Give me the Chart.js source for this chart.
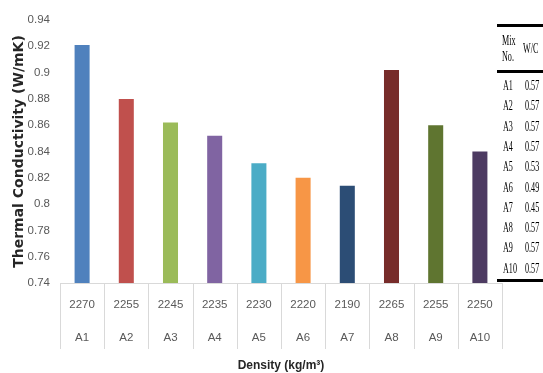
<!DOCTYPE html>
<html>
<head>
<meta charset="utf-8">
<script src="https://cdn.jsdelivr.net/npm/chart.js@4/dist/chart.umd.min.js"></script>
<style>
  html, body { margin: 0; padding: 0; background: #fff; }
  #wrap { position: relative; width: 543px; height: 373px; }
  #wrap canvas { position: absolute; left: 0; top: 0; }
  #mix { position: absolute; left: 497px; top: 0; width: 46px; height: 373px;
         font-family: "Liberation Serif", "Times New Roman", serif; color: #000; }
  #mix .rule { position: absolute; left: 0; width: 46px; background: #000; }
  #mix span { position: absolute; font-size: 14px; line-height: 16px; white-space: nowrap;
              transform: scaleX(0.58); transform-origin: left center; }
</style>
</head>
<body>
<div id="wrap">
  <canvas id="c" width="543" height="373"></canvas>
  <div id="mix"></div>
</div>
<script>
// Mix designs, their densities and measured thermal conductivity
const mixes = ['A1', 'A2', 'A3', 'A4', 'A5', 'A6', 'A7', 'A8', 'A9', 'A10'];
const densities = ['2270', '2255', '2245', '2235', '2230', '2220', '2190', '2265', '2255', '2250'];
const conductivity = [0.921, 0.880, 0.862, 0.852, 0.831, 0.820, 0.814, 0.902, 0.860, 0.840];
const waterCement = ['0.57', '0.57', '0.57', '0.57', '0.53', '0.49', '0.45', '0.57', '0.57', '0.57'];
const barColors = ['#4F81BD', '#C0504D', '#9BBB59', '#8064A2', '#4BACC6',
                   '#F79646', '#2C4D75', '#772C2A', '#5F7530', '#4D3B62'];

const sans = '"Liberation Sans", Arial, sans-serif';

// Two-level category labels: density on top, mix number below
const labels = densities.map((d, i) => [d, mixes[i]]);

// Vertical separators between categories, like a multi-level category axis
const categoryDividers = {
  id: 'categoryDividers',
  afterDraw(chart) {
    const xs = chart.scales.x;
    const n = xs.ticks.length;
    const half = (xs.getPixelForValue(1) - xs.getPixelForValue(0)) / 2;
    const ctx = chart.ctx;
    ctx.save();
    ctx.strokeStyle = '#d9d9d9';
    ctx.lineWidth = 1;
    ctx.beginPath();
    for (let i = 0; i <= n; i++) {
      const px = Math.round(i < n ? xs.getPixelForValue(i) - half : xs.getPixelForValue(n - 1) + half) + 0.5;
      ctx.moveTo(px, xs.top);
      ctx.lineTo(px, xs.top + 66);
    }
    ctx.stroke();
    ctx.restore();
  }
};

new Chart(document.getElementById('c'), {
  type: 'bar',
  data: {
    labels: labels,
    datasets: [{
      data: conductivity,
      backgroundColor: barColors,
      borderWidth: 0,
      categoryPercentage: 1,
      barPercentage: 0.34
    }]
  },
  options: {
    responsive: false,
    animation: false,
    devicePixelRatio: 1,
    layout: { padding: { left: 0, right: 41, top: 20, bottom: 0 } },
    plugins: { legend: { display: false }, tooltip: { enabled: false } },
    scales: {
      x: {
        grid: { display: false, drawTicks: false },
        border: { display: true, color: '#d9d9d9', width: 1 },
        ticks: {
          color: '#595959',
          font: { family: sans, size: 11.5, lineHeight: 33 / 11.5 },
          padding: 5.5,
          maxRotation: 0,
          autoSkip: false
        },
        title: {
          display: true,
          text: 'Density (kg/m³)',
          color: '#262626',
          font: { family: sans, size: 12, weight: 'bold' },
          padding: { top: 0, bottom: 0 }
        },
        afterFit(scale) { scale.height = 90; }
      },
      y: {
        min: 0.74,
        max: 0.94,
        grid: { display: false, drawTicks: false },
        border: { display: false },
        ticks: {
          stepSize: 0.02,
          color: '#595959',
          font: { family: sans, size: 11.5 },
          padding: 10,
          callback: v => String(Number(v.toFixed(2)))
        },
        title: {
          display: true,
          text: 'Thermal Conductivity (W/mK)',
          color: '#262626',
          font: { family: '"DejaVu Sans", sans-serif', size: 14, weight: 'bold' },
          padding: { top: 11, bottom: 0 }
        },
        afterFit(scale) { scale.width = 60; }
      }
    }
  },
  plugins: [categoryDividers]
});

// Mix proportion table beside the chart
(function buildTable() {
  const box = document.getElementById('mix');
  const rule = (y, h) => {
    const d = document.createElement('div');
    d.className = 'rule';
    d.style.top = y + 'px';
    d.style.height = h + 'px';
    box.appendChild(d);
  };
  const text = (t, x, yc) => {
    const s = document.createElement('span');
    s.textContent = t;
    s.style.left = x + 'px';
    s.style.top = (yc - 8) + 'px';
    box.appendChild(s);
  };
  rule(24, 3);
  rule(70, 3);
  rule(279, 3);
  text('Mix', 5, 41);
  text('No.', 5, 57);
  text('W/C', 26, 49);
  mixes.forEach((m, i) => {
    const yc = 86 + i * 20.3;
    text(m, 6, yc);
    text(waterCement[i], 28, yc);
  });
})();
</script>
</body>
</html>
